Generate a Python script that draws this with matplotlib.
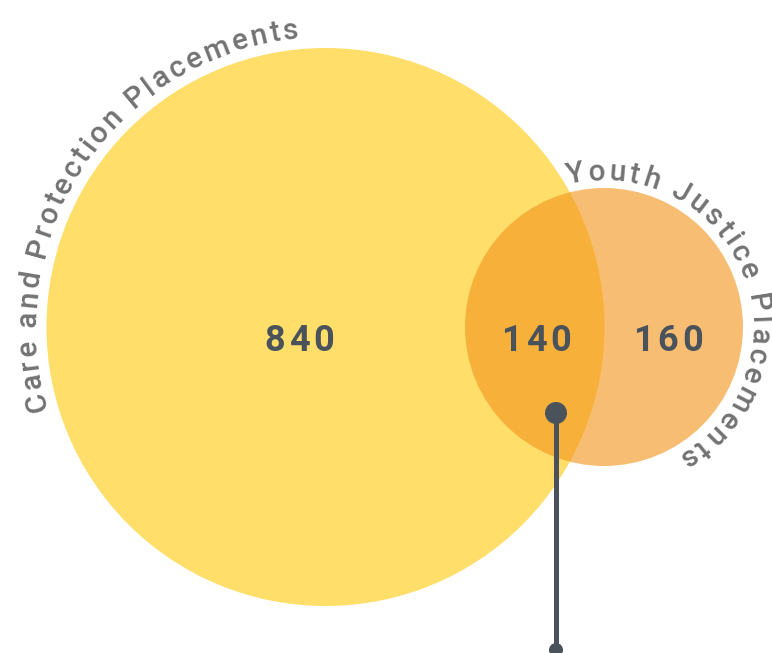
import numpy as np
import matplotlib
matplotlib.use("Agg")
import matplotlib.pyplot as plt
from matplotlib.patches import Circle
from matplotlib.font_manager import FontProperties

# data
set_labels = ["Care and Protection Placements", "Youth Justice Placements"]
region_values = [840, 140, 160]  # only care, both, only youth

DPI = 100
W, H = 772, 653
PX = 72.0 / DPI  # points per pixel

YELLOW = "#FFDE6A"
ORANGE = "#F3961D"
DARK = "#4A535B"
GREY = "#737373"

fig = plt.figure(figsize=(W / DPI, H / DPI), dpi=DPI)
ax = fig.add_axes([0, 0, 1, 1])
ax.set_xlim(0, W)
ax.set_ylim(H, 0)
ax.set_aspect("equal")
ax.axis("off")

big = dict(cx=325.5, cy=327, r=279)
small = dict(cx=604, cy=327, r=139)

ax.add_patch(Circle((big["cx"], big["cy"]), big["r"], color=YELLOW, lw=0, zorder=1))
ax.add_patch(Circle((small["cx"], small["cy"]), small["r"], color=ORANGE, alpha=0.62, lw=0, zorder=2))

renderer = fig.canvas.get_renderer()


def char_width(c, fp):
    w, h, d = renderer.get_text_width_height_descent(c, fp, ismath=False)
    return w


def spaced_text(s, x, y, fp, spacing, color):
    widths = [char_width(c, fp) for c in s]
    total = sum(widths) + spacing * (len(s) - 1)
    pos = x - total / 2
    for c, w in zip(s, widths):
        ax.text(pos + w / 2, y, c, fontproperties=fp, color=color,
                ha="center", va="center", zorder=5)
        pos += w + spacing


def arc_text(s, cx, cy, R, start_deg, fp, spacing, color):
    # clockwise along the circle, letters upright facing outward
    s_pos = 0.0
    for c in s:
        w = char_width(c, fp)
        mid = s_pos + w / 2
        th = np.radians(start_deg) - mid / R
        x = cx + R * np.cos(th)
        y = cy - R * np.sin(th)
        ax.text(x, y, c, fontproperties=fp, color=color, ha="center",
                va="baseline", rotation=np.degrees(th) - 90,
                rotation_mode="anchor", zorder=5)
        s_pos += w + spacing


label_fp = FontProperties(family="Roboto", weight="medium", size=21.5)
arc_text(set_labels[0], big["cx"], big["cy"], big["r"] + 11, 196.4, label_fp, 2.8, GREY)
arc_text(set_labels[1], small["cx"], small["cy"], small["r"] + 8, 104.4, label_fp, 3.2, GREY)

num_fp = FontProperties(family="Roboto", weight="bold", size=26)
num_x = [299, 536, 668]
for v, x in zip(region_values, num_x):
    spaced_text(str(v), x, 341, num_fp, 3.5, DARK)

# pointer from the overlap
ax.plot([556, 556], [413, 650], color=DARK, lw=5 * PX, solid_capstyle="butt", zorder=6)
ax.add_patch(Circle((556, 413), 11, color=DARK, lw=0, zorder=7))
ax.add_patch(Circle((556, 650), 7, color=DARK, lw=0, zorder=7))

fig.savefig("out.png", dpi=DPI)
